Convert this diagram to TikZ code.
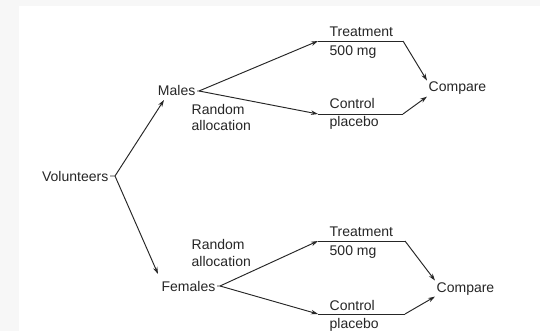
\documentclass[tikz,border=0pt]{standalone}
\usepackage{fontspec}
\setmainfont{Liberation Sans}
\usetikzlibrary{arrows.meta}
\definecolor{ink}{HTML}{262626}
\definecolor{frame}{HTML}{F7F7F7}
\tikzset{
  lbl/.style={font=\fontsize{14}{16.5}\selectfont, text=ink, inner sep=1.5pt},
  conn/.style={draw=ink, line width=0.95pt},
  arr/.style={conn, -{Stealth[length=7pt,width=4.5pt]}},
}
\begin{document}
\begin{tikzpicture}[x=1pt,y=-1pt]
\useasboundingbox (0,0) rectangle (540,331);
\fill[frame] (0,0) rectangle (540,331);
\fill[white] (19,6) rectangle (540,331);
% main nodes
\node[lbl, anchor=base east] (vol) at (110,181) {Volunteers};
\node[lbl, anchor=base east] (males) at (197,96) {Males};
\node[lbl, anchor=base east] (fem) at (217,291) {Females};
\node[lbl, anchor=base west] (cmp1) at (427,92) {Compare};
\node[lbl, anchor=base west] (cmp2) at (435,292) {Compare};
\node[lbl, align=left, anchor=base west] (ra1) at (190,131) {Random\\allocation};
\node[lbl, align=left, anchor=base west] (ra2) at (190,266) {Random\\allocation};
% vertex coordinates
\coordinate (volv) at (115,176);
\coordinate (malv) at (199,91);
\coordinate (femv) at (220,286);
% arm coordinates
\coordinate (t1s) at (318,41);  \coordinate (t1e) at (403,41);
\coordinate (c1s) at (318,114); \coordinate (c1e) at (403,114);
\coordinate (t2s) at (318,241); \coordinate (t2e) at (405,241);
\coordinate (c2s) at (318,314); \coordinate (c2e) at (405,314);
% arm labels
\node[lbl, anchor=base west] (t1a) at (328,37) {Treatment};
\node[lbl, anchor=base west] (t1b) at (328,56) {500 mg};
\node[lbl, anchor=base west] (c1a) at (328,109) {Control};
\node[lbl, anchor=base west] (c1b) at (328,127) {placebo};
\node[lbl, anchor=base west] (t2a) at (328,236) {Treatment};
\node[lbl, anchor=base west] (t2b) at (328,255) {500 mg};
\node[lbl, anchor=base west] (c2a) at (328,310) {Control};
\node[lbl, anchor=base west] (c2b) at (328,328) {placebo};
% connectors
\draw[conn] (vol.east) -- (volv);
\draw[arr] (volv) -- (164,100) coordinate (mtip);
\draw[arr] (volv) -- (158,274) coordinate (ftip);
\draw[conn] (males.east) -- (malv);
\draw[arr] (malv) -- (t1s);
\draw[arr] (malv) -- (c1s);
\draw[conn] (fem.east) -- (femv);
\draw[arr] (femv) -- (t2s);
\draw[arr] (femv) -- (c2s);
\draw[conn] (t1s) -- (t1e);
\draw[conn] (c1s) -- (c1e);
\draw[conn] (t2s) -- (t2e);
\draw[conn] (c2s) -- (c2e);
\draw[arr] (t1e) -- (cmp1.north west);
\draw[arr] (c1e) -- (cmp1.south west);
\draw[arr] (t2e) -- (cmp2.north west);
\draw[arr] (c2e) -- (cmp2.south west);
\end{tikzpicture}
\end{document}
